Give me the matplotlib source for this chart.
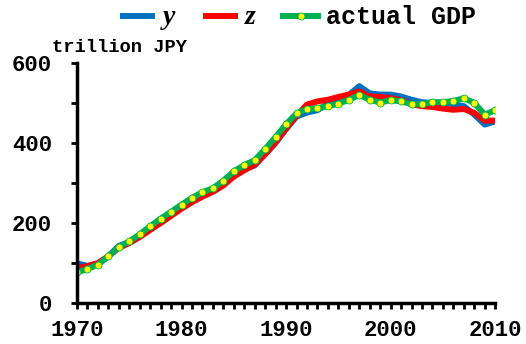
import numpy as np
import matplotlib.pyplot as plt
from matplotlib.ticker import MultipleLocator

# data (trillion JPY)
years = np.arange(1970, 2011)
gdp_actual = [77, 85, 96, 117, 140, 154, 172, 192, 211, 228,
              246, 263, 277, 287, 306, 329, 345, 357, 385, 415,
              447, 474, 485, 487, 492, 498, 508, 520, 508, 501,
              507, 504, 497, 497, 502, 502, 505, 512, 500, 471,
              482]
y_model = [99, 93, 98, 117, 143, 152, 167, 186, 204, 222,
           240, 256, 270, 281, 297, 318, 333, 344, 372, 400,
           435, 466, 476, 482, 498, 508, 520, 542, 524, 521,
           521, 516, 508, 502, 500, 500, 497, 492, 471, 446,
           454]
z_model = [88, 92, 100, 117, 138, 150, 165, 183, 200, 218,
           236, 252, 266, 278, 294, 316, 332, 346, 372, 402,
           436, 468, 496, 504, 508, 515, 521, 529, 516, 515,
           512, 507, 497, 492, 490, 486, 483, 485, 475, 456,
           456]

mono = 'Liberation Mono'

fig = plt.figure(figsize=(5.26, 3.44), dpi=100)
ax = fig.add_axes([0.1464, 0.119, 0.795, 0.698])

l1, = ax.plot(years, y_model, color='#0070c0', lw=4.3, solid_capstyle='butt')
l2, = ax.plot(years, z_model, color='#ff0000', lw=4.3, solid_capstyle='butt')
l3, = ax.plot(years, gdp_actual, color='#00b050', lw=4.3,
              marker='o', markersize=5, markerfacecolor='#ffff00',
              markeredgecolor='#00b050', markeredgewidth=0.6)

ax.set_xlim(1970, 2010)
ax.set_ylim(0, 600)
ax.xaxis.set_major_locator(MultipleLocator(10))
ax.xaxis.set_minor_locator(MultipleLocator(1))
ax.yaxis.set_major_locator(MultipleLocator(200))
ax.yaxis.set_minor_locator(MultipleLocator(100))
ax.tick_params(which='both', direction='out', length=4, width=2, color='black')
ax.tick_params(which='major', labelsize=16)
ax.tick_params(axis='x', which='major', pad=8)
ax.tick_params(axis='y', which='major', pad=14)

for s in ['top', 'right']:
    ax.spines[s].set_visible(False)
for s in ['left', 'bottom']:
    ax.spines[s].set_linewidth(2.5)

for lab in ax.get_xticklabels() + ax.get_yticklabels():
    lab.set_fontfamily(mono)
    lab.set_fontweight('bold')

fig.text(52 / 526, 1 - 48 / 344, 'trillion JPY', fontfamily=mono,
         fontweight='bold', fontsize=13.5, va='center', ha='left')

leg = fig.legend([l1, l2, l3], ['y', 'z', 'actual GDP'], loc='center',
                 bbox_to_anchor=(298 / 526, 1 - 18 / 344), ncol=3,
                 frameon=False, handlelength=1.4, handletextpad=0.3,
                 columnspacing=1.1, fontsize=18, borderpad=0)
texts = leg.get_texts()
for t in texts[:2]:
    t.set_fontfamily('Liberation Serif')
    t.set_fontstyle('italic')
    t.set_fontweight('bold')
    t.set_fontsize(20)
texts[2].set_fontfamily(mono)
texts[2].set_fontweight('bold')

fig.savefig('out.png', dpi=100)
